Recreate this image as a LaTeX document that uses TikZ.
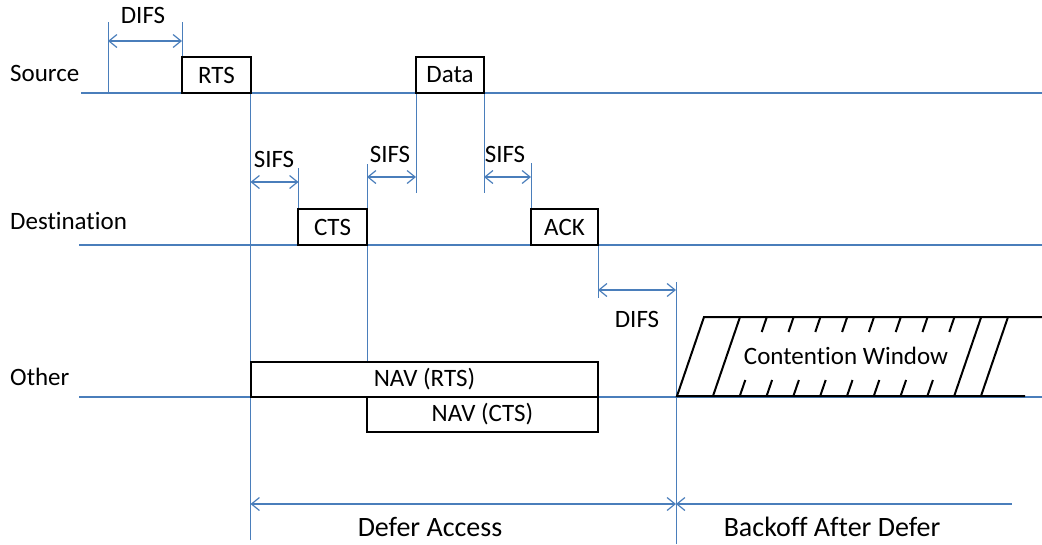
\documentclass[tikz,border=0pt]{standalone}
\usepackage{fontspec}
\setmainfont{Carlito}[Ligatures={CommonOff,TeX}]
\usetikzlibrary{arrows.meta}
\definecolor{lineblue}{HTML}{4A7EBB}
\begin{document}
\begin{tikzpicture}[x=1pt,y=-1pt,
  tl/.style={draw=lineblue,line width=1.5pt},
  vl/.style={draw=lineblue,line width=1pt},
  barb/.tip={Straight Barb[length=8pt,width=13pt]},
  dim/.style={draw=lineblue,line width=1.2pt,barb-barb},
  ldim/.style={draw=lineblue,line width=1.2pt,barb-},
  frame/.style={draw=black,line width=2pt,fill=white,inner sep=0pt,font=\fontsize{25}{29}\selectfont},
  lbl/.style={inner sep=0pt,font=\fontsize{25}{29}\selectfont},
  big/.style={inner sep=0pt,font=\fontsize{28}{32}\selectfont},
  cw/.style={draw=black,line width=2pt}
]
\useasboundingbox (0,0) rectangle (1042,544);

% timelines
\coordinate (srcL) at (81,93);   \coordinate (srcR) at (1042,93);
\coordinate (dstL) at (79,245);  \coordinate (dstR) at (1042,245);
\coordinate (othL) at (79,397);  \coordinate (othR) at (1042,397);
\draw[tl] (srcL) -- (srcR);
\draw[tl] (dstL) -- (dstR);
\draw[tl] (othL) -- (othR);

% row labels
\node[lbl,anchor=base west] (lsrc) at (10,81) {Source};
\node[lbl,anchor=base west] (ldst) at (10,229) {Destination};
\node[lbl,anchor=base west] (loth) at (10,385) {Other};

% guide coordinates
\coordinate (difsAt) at (108,22);  \coordinate (difsAb) at (108,93);
\coordinate (difsBt) at (182,22);  \coordinate (difsBb) at (182,57);
\coordinate (rtsT)  at (250.5,93); \coordinate (rtsB)  at (250.5,540);
\coordinate (s1t)   at (298.5,168); \coordinate (s1b)  at (298.5,209);
\coordinate (ctsT)  at (367,164);  \coordinate (ctsB)  at (367,362);
\coordinate (dlT)   at (416,93);   \coordinate (dlB)   at (416,193);
\coordinate (drT)   at (484,93);   \coordinate (drB)   at (484,193);
\coordinate (akT)   at (531,163);  \coordinate (akB)   at (531,209);
\coordinate (aeT)   at (598,245);  \coordinate (aeB)   at (598,298);
\coordinate (dfT)   at (676,282);  \coordinate (dfB)   at (676,544);
\coordinate (boEnd) at (1012,504);

\draw[vl] (difsAt) -- (difsAb);
\draw[vl] (difsBt) -- (difsBb);
\draw[vl] (rtsT) -- (rtsB);
\draw[vl] (s1t) -- (s1b);
\draw[vl] (ctsT) -- (ctsB);
\draw[vl] (dlT) -- (dlB);
\draw[vl] (drT) -- (drB);
\draw[vl] (akT) -- (akB);
\draw[vl] (aeT) -- (aeB);
\draw[vl] (dfT) -- (dfB);

% dimension arrows
\draw[dim] (difsAt |- 0,41) -- (difsBt |- 0,41);
\draw[dim] (rtsT |- 0,182) -- (s1t |- 0,182);
\draw[dim] (ctsT |- 0,177) -- (dlT |- 0,177);
\draw[dim] (drT |- 0,177) -- (akT |- 0,177);
\draw[dim] (aeT |- 0,290) -- (dfT |- 0,290);
\draw[dim] (rtsT |- 0,504) -- (dfT |- 0,504);
\draw[ldim] (dfT |- 0,504) -- (boEnd);

% dimension labels
\node[lbl,anchor=base] (tdifs1) at (143,23) {DIFS};
\node[lbl,anchor=base] (tsifs1) at (274,167) {SIFS};
\node[lbl,anchor=base] (tsifs2) at (390,162) {SIFS};
\node[lbl,anchor=base] (tsifs3) at (505,162) {SIFS};
\node[lbl,anchor=base] (tdifs2) at (637,327) {DIFS};
\node[big,anchor=base] (tdefer) at (430,536) {Defer Access};
\node[big,anchor=base] (tback) at (832,536) {Backoff After Defer};

% frames
\node[frame,minimum width=69pt,minimum height=36pt] (rts) at (216.5,75) {RTS};
\node[frame,minimum width=68pt,minimum height=36pt] (data) at (450,75) {Data};
\node[frame,minimum width=69pt,minimum height=36pt] (cts) at (332.5,227) {CTS};
\node[frame,minimum width=67pt,minimum height=36pt] (ack) at (564.5,227) {ACK};
\node[frame,minimum width=347pt,minimum height=35pt] (navrts) at (424.5,379.5) {NAV (RTS)};
\node[frame,minimum width=231pt,minimum height=35pt] (navcts) at (482.5,414.5) {NAV (CTS)};

% contention window
\draw[cw] (1042,317) -- (704,317) -- (677,396) -- (1025,396);
\foreach \x in {713,954.2,981} \draw[cw] (\x,396) -- ++(27,-79);
\foreach \k in {1,...,8} {
  \pgfmathsetmacro{\xx}{713+26.8*\k}
  \draw[cw] (\xx,396) -- ++(5.5,-16);
  \draw[cw] (\xx+27,317) -- ++(-5.1,15);
}
\node[lbl,anchor=base] (tcw) at (846,364) {Contention Window};
\end{tikzpicture}
\end{document}
